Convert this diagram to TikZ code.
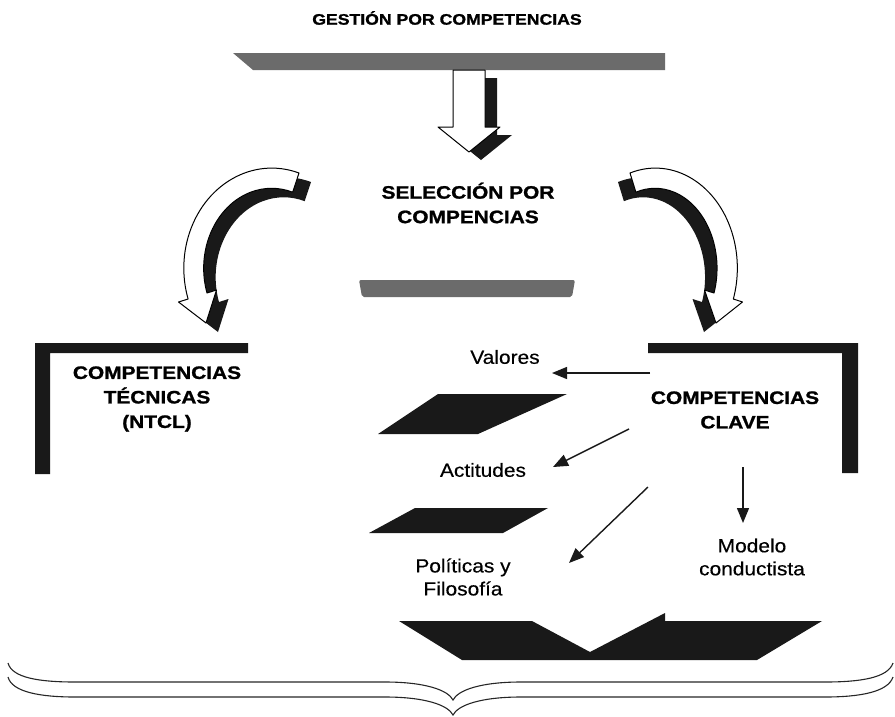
\documentclass[tikz,border=0pt]{standalone}
\usepackage{fontspec}
\setmainfont{Liberation Sans}
\newfontfamily\headfont[FakeStretch=1.16,FakeBold=1.2]{Liberation Sans}
\newfontfamily\bodyfont[FakeStretch=1.1,FakeBold=0.4]{Liberation Sans}
\usetikzlibrary{arrows.meta}

\begin{document}
\begin{tikzpicture}[x=1pt,y=-1pt,
  heading/.style={font=\headfont\bfseries\fontsize{18}{24.5}\selectfont, align=center, inner sep=0pt},
  titletext/.style={font=\headfont\bfseries\fontsize{15.2}{18}\selectfont, inner sep=0pt},
  label/.style={font=\bodyfont\fontsize{19}{23}\selectfont, align=center, inner sep=0pt},
  greybar/.style={fill=black!58},
  heavy/.style={fill=black!90},
  block/.style={fill=white, draw=black, line width=1pt, line join=round},
  shade/.style={fill=black!90},
  pointer/.style={-{Triangle[length=15pt,width=12pt]}, line width=1.4pt, black!90},
  bracestroke/.style={draw=black!85, line width=1.1pt},
]
\useasboundingbox (0,0) rectangle (895,716);

% title and the bar under it
\node[titletext] (title) at (447,18) {GESTIÓN POR COMPETENCIAS};
\fill[greybar] (233,53) -- (665,53) -- (665,70) -- (253,70) -- cycle;

% hollow down arrow with its dark extrusion
\fill[shade, shift={(12,8)}] (453,70) -- (485,70) -- (485,127) -- (500,127) -- (469,152) -- (438,127) -- (453,127) -- cycle;
\draw[block] (453,70) -- (485,70) -- (485,127) -- (500,127) -- (469,152) -- (438,127) -- (453,127) -- cycle;

% central heading and its bar
\node[heading] (sel) at (468,203) {SELECCIÓN POR\\COMPENCIAS};
\fill[greybar, rounded corners=2pt] (359,280) -- (575,280) -- (572,297) -- (362,297) -- cycle;

% left curved arrow
\fill[shade, shift={(12,9)}] (299,173) arc[start angle=-72, end angle=-198, x radius=88, y radius=100]
  -- (178.5,302) -- (206,323) -- (216.5,290) -- (207,293)
  arc[start angle=-198, end angle=-72, x radius=68, y radius=80] -- cycle;
\draw[block] (299,173) arc[start angle=-72, end angle=-198, x radius=88, y radius=100]
  -- (178.5,302) -- (206,323) -- (216.5,290) -- (207,293)
  arc[start angle=-198, end angle=-72, x radius=68, y radius=80] -- cycle;

% right curved arrow
\fill[shade, shift={(-12,9)}] (630,173) arc[start angle=-108, end angle=18, x radius=82, y radius=100]
  -- (742.5,302) -- (716,323) -- (704.5,290) -- (714,293)
  arc[start angle=18, end angle=-108, x radius=62, y radius=80] -- cycle;
\draw[block] (630,173) arc[start angle=-108, end angle=18, x radius=82, y radius=100]
  -- (742.5,302) -- (716,323) -- (704.5,290) -- (714,293)
  arc[start angle=18, end angle=-108, x radius=62, y radius=80] -- cycle;

% corner frames
\fill[heavy] (35,343) -- (248,343) -- (248,353) -- (50,353) -- (50,474) -- (35,474) -- cycle;
\fill[heavy] (648,343) -- (858,343) -- (858,473) -- (842,473) -- (842,353) -- (648,353) -- cycle;

% headings inside the frames
\node[heading] (tec) at (157,399) {COMPETENCIAS\\TÉCNICAS\\(NTCL)};
\node[heading] (clave) at (735,410) {COMPETENCIAS\\CLAVE};

% levels of the key competences
\node[label] (val) at (505,357) {Valores};
\node[label] (act) at (483,470) {Actitudes};
\node[label] (pol) at (463,577) {Políticas y\\Filosofía};
\node[label] (mod) at (752,557) {Modelo\\conductista};

% dark slabs between the levels
\fill[heavy] (438,394) -- (567,394) -- (478,434) -- (378,434) -- cycle;
\fill[heavy] (415,508) -- (548,508) -- (503,533) -- (369,533) -- cycle;
\fill[heavy] (399,621) -- (532,621) -- (590,652) -- (665,613) -- (665,621) -- (822,621) -- (757,660) -- (462,660) -- cycle;

% pointers from the key competences
\coordinate (valFrom) at (650,373);
\coordinate (valTo) at (552,373);
\coordinate (actFrom) at (629,429);
\coordinate (actTo) at (553,467);
\coordinate (polFrom) at (648,487);
\coordinate (polTo) at (569,563);
\coordinate (modFrom) at (743,467);
\coordinate (modTo) at (743,523);
\draw[pointer] (valFrom) -- (valTo);
\draw[pointer] (actFrom) -- (actTo);
\draw[pointer] (polFrom) -- (polTo);
\draw[pointer] (modFrom) -- (modTo);

% outlined brace along the bottom
\draw[bracestroke] (8,663) .. controls (12,678) and (40,682) .. (75,682) -- (385,682)
  .. controls (425,682) and (448,690) .. (453,700)
  .. controls (458,690) and (481,682) .. (521,682) -- (825,682)
  .. controls (860,682) and (888,678) .. (893,663);
\draw[bracestroke] (8,677) .. controls (12,692) and (40,697) .. (75,697) -- (385,697)
  .. controls (425,697) and (448,705) .. (453,715)
  .. controls (458,705) and (481,697) .. (521,697) -- (825,697)
  .. controls (860,697) and (888,692) .. (893,677);
\end{tikzpicture}
\end{document}
